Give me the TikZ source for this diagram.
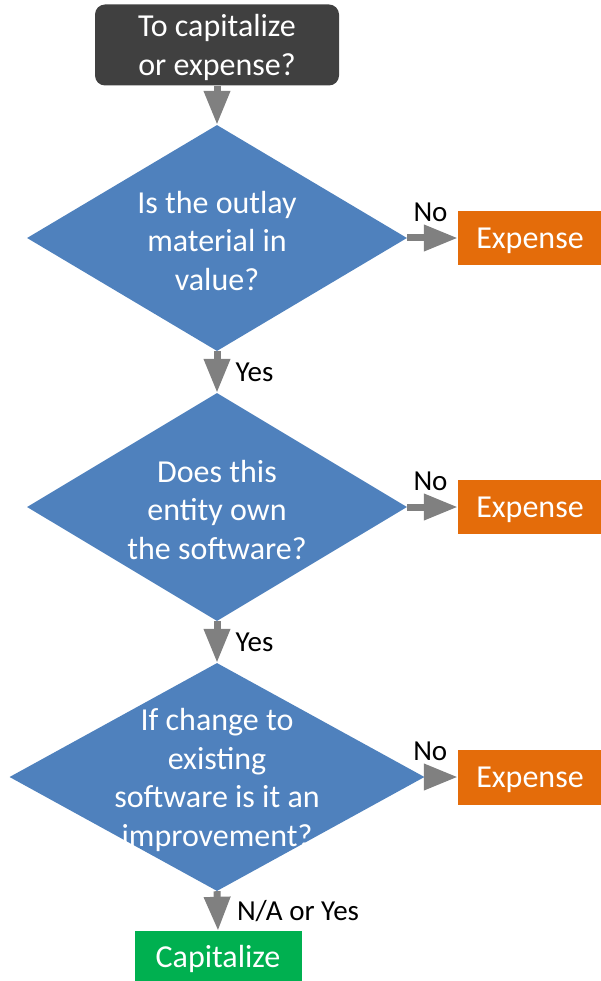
\documentclass[tikz,border=0pt]{standalone}
\usepackage{fontspec}
\setmainfont{Carlito}
\usetikzlibrary{shapes.geometric,arrows.meta}

\definecolor{startFill}{RGB}{64,64,64}
\definecolor{askFill}{RGB}{79,129,189}
\definecolor{expFill}{RGB}{228,108,10}
\definecolor{capFill}{RGB}{0,176,80}
\definecolor{flowColor}{RGB}{128,128,128}

\tikzset{
  box/.style={fill=#1,draw=none,text=white,align=center,inner sep=0pt,
    text depth=0pt,font=\fontsize{32}{38.5}\selectfont},
  decision/.style={diamond,fill=askFill,draw=none,inner sep=0pt,
    minimum width=#1},
  asktext/.style={text=white,align=center,inner sep=0pt,yshift=-3pt,
    font=\fontsize{32}{38.5}\selectfont},
  flow/.style={draw=flowColor,line width=7pt,
    -{Triangle[length=34pt,width=25pt]}},
  lbl/.style={text=black,inner sep=0pt,font=\fontsize{29}{34}\selectfont}
}

\begin{document}
\begin{tikzpicture}[x=1pt,y=-1pt]
\useasboundingbox (0,0) rectangle (601,981);

% start box
\node[box=startFill,rounded corners=10pt,minimum width=244pt,minimum height=81pt]
  (start) at (217,45) {To capitalize\\or expense?};

% the three questions
\node[decision=380pt,minimum height=226pt,
  label={[asktext]center:{Is the outlay\\material in\\value?}}]
  (q1) at (217,238) {};
\node[decision=380pt,minimum height=228pt,
  label={[asktext]center:{Does this\\entity own\\the software?}}]
  (q2) at (217,507) {};
\node[decision=415pt,minimum height=228pt,
  label={[asktext]center:{If change to\\existing\\software is it an\\improvement?}}]
  (q3) at (217,777) {};

% outcomes
\node[box=expFill,minimum width=144pt,minimum height=54pt] (e1) at (530,238) {Expense};
\node[box=expFill,minimum width=144pt,minimum height=54pt] (e2) at (530,507) {Expense};
\node[box=expFill,minimum width=144pt,minimum height=55pt] (e3) at (530,777) {Expense};
\node[box=capFill,minimum width=167pt,minimum height=50pt] (cap) at (218,956) {Capitalize};

% flow
\draw[flow] (start.south) -- (q1.north);
\draw[flow] (q1.south) -- node[lbl,anchor=west,xshift=15pt] {Yes} (q2.north);
\draw[flow] (q2.south) -- node[lbl,anchor=west,xshift=15pt] {Yes} (q3.north);
\draw[flow] (q3.south) -- node[lbl,anchor=west,xshift=16pt] {N/A or Yes} (cap.north);

\draw[flow] (q1.east) -- node[lbl,anchor=south,yshift=13pt,xshift=-2pt] {No} (e1.west);
\draw[flow] (q2.east) -- node[lbl,anchor=south,yshift=13pt,xshift=-2pt] {No} (e2.west);
\draw[flow] (q3.east) -- node[lbl,anchor=south,yshift=13pt,xshift=-11pt] {No} (e3.west);
\end{tikzpicture}
\end{document}
